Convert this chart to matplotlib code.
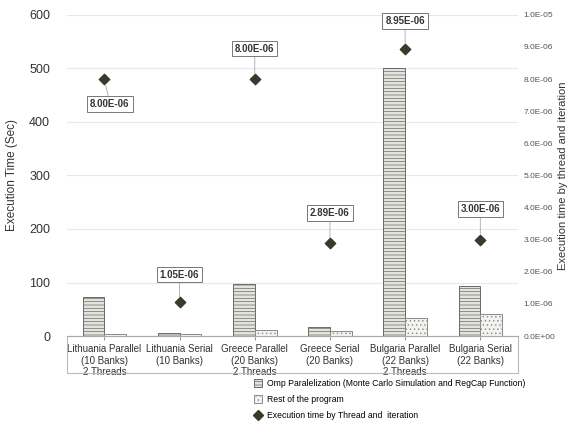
import matplotlib.pyplot as plt
import numpy as np
from matplotlib.lines import Line2D
from matplotlib.patches import Patch, Rectangle

categories = [
    "Lithuania Parallel\n(10 Banks)\n2 Threads",
    "Lithuania Serial\n(10 Banks)",
    "Greece Parallel\n(20 Banks)\n2 Threads",
    "Greece Serial\n(20 Banks)",
    "Bulgaria Parallel\n(22 Banks)\n2 Threads",
    "Bulgaria Serial\n(22 Banks)",
]
omp_time = [73, 5, 97, 17, 500, 93]
rest_time = [4, 3, 11, 10, 33, 42]
thread_time = [8.00e-06, 1.05e-06, 8.00e-06, 2.89e-06, 8.95e-06, 3.00e-06]
point_labels = ["8.00E-06", "1.05E-06", "8.00E-06", "2.89E-06", "8.95E-06", "3.00E-06"]
right_ticks = [i * 1e-6 for i in range(11)]
right_tick_labels = ["0.0E+00"] + [f"{i}.0E-06" for i in range(1, 10)] + ["1.0E-05"]

plt.rcParams["font.family"] = ["Liberation Sans", "DejaVu Sans"]
plt.rcParams["hatch.linewidth"] = 0.5
plt.rcParams["hatch.color"] = "#9a9a9a"

fig = plt.figure(figsize=(5.71, 4.37), dpi=100)
ax = fig.add_axes([0.117, 0.231, 0.790, 0.735])
ax2 = ax.twinx()

x = np.arange(len(categories))
w = 0.29
ax.bar(x - w / 2, omp_time, w, color="#e4e4dc", edgecolor="#6a6a6a", lw=0.7,
       hatch="-----", zorder=2)
ax.bar(x + w / 2, rest_time, w, color="#f2f2ee", edgecolor="#8a8a8a", lw=0.7,
       hatch="....", zorder=2)

ax.set_xlim(-0.5, len(categories) - 0.5)
ax.set_ylim(0, 600)
ax.set_yticks(range(0, 601, 100))
ax.yaxis.grid(True, color="#e8e8e8", lw=0.8)
ax.set_axisbelow(True)
ax.set_xticks(x)
ax.set_xticklabels(categories, fontsize=7, color="#333333", linespacing=1.15)
ax.tick_params(axis="x", length=3, color="#999999", pad=3)
ax.tick_params(axis="y", length=0, labelsize=9, pad=12, colors="#333333")
ax.set_ylabel("Execution Time (Sec)", fontsize=8.5, color="#333333", labelpad=8)
for s in ["top", "right", "left"]:
    ax.spines[s].set_visible(False)
ax.spines["bottom"].set_color("#aaaaaa")
ax.add_patch(Rectangle((0, -0.115), 1, 0.115, transform=ax.transAxes, fill=False,
                       edgecolor="#bbbbbb", lw=0.8, clip_on=False))

ax2.scatter(x, thread_time, marker="D", s=28, color="#3a3a2a", zorder=3)
ax2.set_ylim(0, 1e-05)
ax2.set_yticks(right_ticks)
ax2.set_yticklabels(right_tick_labels, fontsize=6, color="#555555")
ax2.tick_params(axis="y", length=0, pad=4)
ax2.set_ylabel("Execution time by thread and iteration", fontsize=8, color="#333333",
               labelpad=2)
for s in ["top", "right", "left", "bottom"]:
    ax2.spines[s].set_visible(False)

offsets = [(4, -18), (0, 20), (0, 22), (0, 22), (0, 20), (0, 22)]
for xi, yi, lab, off in zip(x, thread_time, point_labels, offsets):
    ax2.annotate(lab, (xi, yi), xytext=off, textcoords="offset points",
                 ha="center", va="center", fontsize=7, fontweight="bold",
                 color="#333333",
                 bbox=dict(boxstyle="square,pad=0.3", fc="white", ec="#777777", lw=0.7),
                 arrowprops=dict(arrowstyle="-", color="#aaaaaa", lw=0.6,
                                 shrinkA=0, shrinkB=4))

handles = [
    Patch(facecolor="#e4e4dc", edgecolor="#6a6a6a", hatch="-----", lw=0.7),
    Patch(facecolor="#f2f2ee", edgecolor="#8a8a8a", hatch="....", lw=0.7),
    Line2D([], [], marker="D", ls="none", color="#3a3a2a", markersize=5),
]
labels = [
    "Omp Paralelization (Monte Carlo Simulation and RegCap Function)",
    "Rest of the program",
    "Execution time by Thread and  iteration",
]
fig.legend(handles, labels, loc="upper left", bbox_to_anchor=(0.437, 0.142),
           frameon=False, fontsize=6.2, handlelength=1.0, handleheight=1.0,
           handletextpad=0.5, labelspacing=0.8, borderpad=0)

fig.savefig("out.png", dpi=100)
